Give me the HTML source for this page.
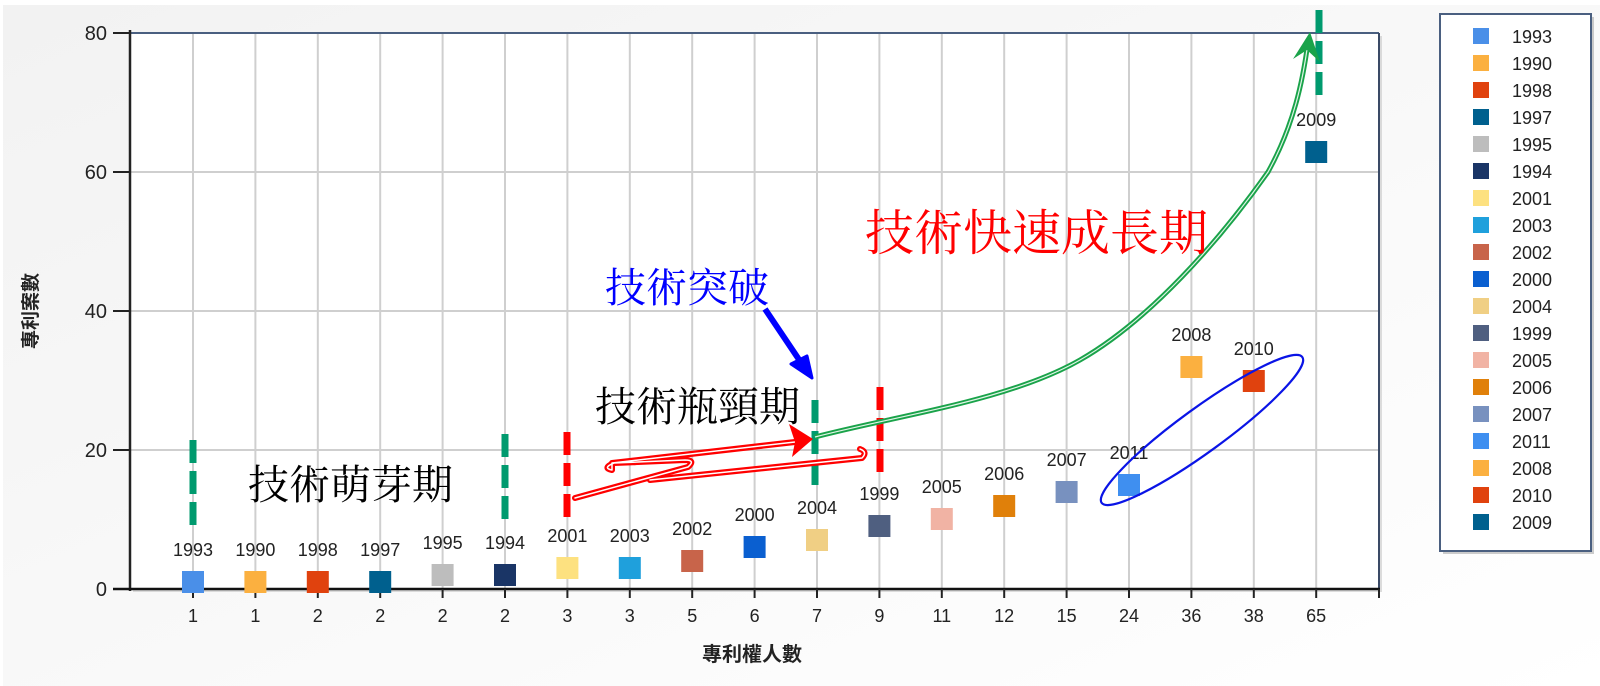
<!DOCTYPE html>
<html><head><meta charset="utf-8"><style>
html,body{margin:0;padding:0;width:1600px;height:686px;overflow:hidden;background:#fff}
svg{display:block}
text{font-family:"Liberation Sans","Noto Sans CJK TC",sans-serif}
.cj{font-family:"Liberation Serif","Noto Serif CJK SC","Noto Sans CJK TC",serif}
</style></head><body>
<svg width="1600" height="686" viewBox="0 0 1600 686" xmlns="http://www.w3.org/2000/svg">
<defs>
<linearGradient id="bg" x1="0" y1="0" x2="1" y2="1">
<stop offset="0" stop-color="#f2f2f2"/><stop offset="1" stop-color="#ffffff"/>
</linearGradient>
</defs>
<rect x="0" y="0" width="1600" height="686" fill="#fff"/>
<rect x="3" y="5" width="1597" height="681" fill="url(#bg)"/>
<rect x="133" y="36" width="1249" height="556" fill="#bbb" opacity="0.5"/>
<rect x="130" y="33" width="1249" height="556" fill="#fff"/>
<g stroke="#cfcfcf" stroke-width="2">
<line x1="130" y1="172" x2="1379" y2="172"/>
<line x1="130" y1="311" x2="1379" y2="311"/>
<line x1="130" y1="450" x2="1379" y2="450"/>
</g>
<g stroke="#cfcfcf" stroke-width="2">
<line x1="193" y1="33" x2="193" y2="589"/><line x1="255.4" y1="33" x2="255.4" y2="589"/>
<line x1="317.8" y1="33" x2="317.8" y2="589"/><line x1="380.2" y1="33" x2="380.2" y2="589"/>
<line x1="442.6" y1="33" x2="442.6" y2="589"/><line x1="505" y1="33" x2="505" y2="589"/>
<line x1="567.4" y1="33" x2="567.4" y2="589"/><line x1="629.8" y1="33" x2="629.8" y2="589"/>
<line x1="692.2" y1="33" x2="692.2" y2="589"/><line x1="754.6" y1="33" x2="754.6" y2="589"/>
<line x1="817" y1="33" x2="817" y2="589"/><line x1="879.4" y1="33" x2="879.4" y2="589"/>
<line x1="941.8" y1="33" x2="941.8" y2="589"/><line x1="1004.2" y1="33" x2="1004.2" y2="589"/>
<line x1="1066.6" y1="33" x2="1066.6" y2="589"/><line x1="1129" y1="33" x2="1129" y2="589"/>
<line x1="1191.4" y1="33" x2="1191.4" y2="589"/><line x1="1253.8" y1="33" x2="1253.8" y2="589"/>
<line x1="1316.2" y1="33" x2="1316.2" y2="589"/>
</g>
<line x1="130" y1="33" x2="1379" y2="33" stroke="#4a5f80" stroke-width="2"/>
<line x1="1379" y1="33" x2="1379" y2="589" stroke="#3a4a66" stroke-width="2"/>
<line x1="130" y1="30" x2="130" y2="591" stroke="#222" stroke-width="2.5"/>
<line x1="113" y1="589" x2="1380" y2="589" stroke="#111" stroke-width="2.5"/>
<g stroke="#222" stroke-width="2">
<line x1="113" y1="33" x2="130" y2="33"/><line x1="113" y1="172" x2="130" y2="172"/>
<line x1="113" y1="311" x2="130" y2="311"/><line x1="113" y1="450" x2="130" y2="450"/>
</g>
<g font-size="20" fill="#222" text-anchor="end">
<text x="107" y="40">80</text><text x="107" y="179">60</text><text x="107" y="318">40</text>
<text x="107" y="457">20</text><text x="107" y="596">0</text>
</g>
<g stroke="#222" stroke-width="2">
<line x1="193" y1="589" x2="193" y2="598"/><line x1="255.4" y1="589" x2="255.4" y2="598"/>
<line x1="317.8" y1="589" x2="317.8" y2="598"/><line x1="380.2" y1="589" x2="380.2" y2="598"/>
<line x1="442.6" y1="589" x2="442.6" y2="598"/><line x1="505" y1="589" x2="505" y2="598"/>
<line x1="567.4" y1="589" x2="567.4" y2="598"/><line x1="629.8" y1="589" x2="629.8" y2="598"/>
<line x1="692.2" y1="589" x2="692.2" y2="598"/><line x1="754.6" y1="589" x2="754.6" y2="598"/>
<line x1="817" y1="589" x2="817" y2="598"/><line x1="879.4" y1="589" x2="879.4" y2="598"/>
<line x1="941.8" y1="589" x2="941.8" y2="598"/><line x1="1004.2" y1="589" x2="1004.2" y2="598"/>
<line x1="1066.6" y1="589" x2="1066.6" y2="598"/><line x1="1129" y1="589" x2="1129" y2="598"/>
<line x1="1191.4" y1="589" x2="1191.4" y2="598"/><line x1="1253.8" y1="589" x2="1253.8" y2="598"/>
<line x1="1316.2" y1="589" x2="1316.2" y2="598"/><line x1="1379" y1="589" x2="1379" y2="598"/>
</g>
<g font-size="18" fill="#222" text-anchor="middle">
<text x="193" y="622">1</text><text x="255.4" y="622">1</text><text x="317.8" y="622">2</text>
<text x="380.2" y="622">2</text><text x="442.6" y="622">2</text><text x="505" y="622">2</text>
<text x="567.4" y="622">3</text><text x="629.8" y="622">3</text><text x="692.2" y="622">5</text>
<text x="754.6" y="622">6</text><text x="817" y="622">7</text><text x="879.4" y="622">9</text>
<text x="941.8" y="622">11</text><text x="1004.2" y="622">12</text><text x="1066.6" y="622">15</text>
<text x="1129" y="622">24</text><text x="1191.4" y="622">36</text><text x="1253.8" y="622">38</text>
<text x="1316.2" y="622">65</text>
</g>
<text x="752" y="661" font-size="20" font-weight="bold" fill="#222" text-anchor="middle">專利權人數</text>
<text transform="translate(37,311) rotate(-90)" font-size="19" font-weight="bold" fill="#222" text-anchor="middle">專利案數</text>
<g>
<rect x="182" y="571" width="22" height="22" fill="#4a8fe8"/>
<rect x="244.4" y="571" width="22" height="22" fill="#fbb040"/>
<rect x="306.8" y="571" width="22" height="22" fill="#e0420e"/>
<rect x="369.2" y="571" width="22" height="22" fill="#00608e"/>
<rect x="431.6" y="564" width="22" height="22" fill="#bdbdbd"/>
<rect x="494" y="564" width="22" height="22" fill="#1a3566"/>
<rect x="556.4" y="557" width="22" height="22" fill="#fde180"/>
<rect x="618.8" y="557" width="22" height="22" fill="#1fa0dc"/>
<rect x="681.2" y="550" width="22" height="22" fill="#c8644a"/>
<rect x="743.6" y="536" width="22" height="22" fill="#0a5fd0"/>
<rect x="806" y="529" width="22" height="22" fill="#f0cf84"/>
<rect x="868.4" y="515" width="22" height="22" fill="#4f5f80"/>
<rect x="930.8" y="508" width="22" height="22" fill="#f1b3a4"/>
<rect x="993.2" y="495" width="22" height="22" fill="#e0800a"/>
<rect x="1055.6" y="481" width="22" height="22" fill="#7891bf"/>
<rect x="1118" y="474" width="22" height="22" fill="#3f8ff0"/>
<rect x="1180.4" y="356" width="22" height="22" fill="#fbb040"/>
<rect x="1242.8" y="370" width="22" height="22" fill="#e0420e"/>
<rect x="1305.2" y="141" width="22" height="22" fill="#00608e"/>
</g>
<g font-size="18" fill="#222" text-anchor="middle">
<text x="193" y="556">1993</text><text x="255.4" y="556">1990</text><text x="317.8" y="556">1998</text>
<text x="380.2" y="556">1997</text><text x="442.6" y="549">1995</text><text x="505" y="549">1994</text>
<text x="567.4" y="542">2001</text><text x="629.8" y="542">2003</text><text x="692.2" y="535">2002</text>
<text x="754.6" y="521">2000</text><text x="817" y="514">2004</text><text x="879.4" y="500">1999</text>
<text x="941.8" y="493">2005</text><text x="1004.2" y="480">2006</text><text x="1066.6" y="466">2007</text>
<text x="1129" y="459">2011</text><text x="1191.4" y="341">2008</text><text x="1253.8" y="355">2010</text>
<text x="1316.2" y="126">2009</text>
</g>
<g stroke-width="7" stroke-dasharray="23,8" fill="none">
<line x1="193" y1="440" x2="193" y2="525" stroke="#009a6e"/>
<line x1="505" y1="434" x2="505" y2="519" stroke="#009a6e"/>
<line x1="567" y1="432" x2="567" y2="517" stroke="#ff0000"/>
<line x1="815" y1="400" x2="815" y2="485" stroke="#009a6e"/>
<line x1="880" y1="387" x2="880" y2="472" stroke="#ff0000"/>
<line x1="1319" y1="10" x2="1319" y2="95" stroke="#009a6e"/>
</g>
<g fill="none" stroke-linecap="round" stroke-linejoin="round">
<path d="M575,498 L688,467 Q696,460 685,460 L614,463 Q602,468 612,470 L612,463 L795,442" stroke="#f00" stroke-width="6"/>
<path d="M650,480 L862,458 Q868,452 860,449" stroke="#f00" stroke-width="6"/>
<path d="M575,498 L688,467 Q696,460 685,460 L614,463 Q602,468 612,470 L612,463 L795,442" stroke="#fff" stroke-width="1.5"/>
<path d="M650,480 L862,458 Q868,452 860,449" stroke="#fff" stroke-width="1.5"/>
</g>
<path d="M813,439 L789,424 L795,442 L792,457 Z" fill="#f00"/>
<path id="gc" d="M815,437 C900,415 1010,400 1080,360 C1150,320 1220,240 1268,172 C1294,125 1303,80 1308,42" fill="none" stroke="#1aa34a" stroke-width="5"/>
<path d="M815,437 C900,415 1010,400 1080,360 C1150,320 1220,240 1268,172 C1294,125 1303,80 1308,42" fill="none" stroke="#dff5e6" stroke-width="1.2"/>
<path d="M1310,32 L1293,59 L1307,50 L1320,62 Z" fill="#1aa34a"/>
<line x1="765" y1="309" x2="806" y2="370" stroke="#0000ff" stroke-width="6"/>
<path d="M812,378 L791,364 L807,356 Z" fill="#0000ff" stroke="#0000ff" stroke-width="3" stroke-linejoin="round"/>
<ellipse cx="1202" cy="430" rx="124" ry="22" transform="rotate(-36 1202 430)" fill="none" stroke="#0a14e6" stroke-width="2.2"/>
<text class="cj" x="248" y="499" font-size="41" fill="#000">技術萌芽期</text>
<text class="cj" x="595" y="421" font-size="41" fill="#000">技術瓶頸期</text>
<text class="cj" x="605" y="302" font-size="41" fill="#0000ff">技術突破</text>
<text class="cj" x="865" y="250" font-size="49" fill="#ff0000">技術快速成長期</text>
<rect x="1443" y="17" width="151" height="537" fill="#999" opacity="0.5"/>
<rect x="1440" y="14" width="151" height="537" fill="#fff" stroke="#4a5f80" stroke-width="2"/>
<g>
<rect x="1473" y="28" width="16" height="16" fill="#4a8fe8"/>
<rect x="1473" y="55" width="16" height="16" fill="#fbb040"/>
<rect x="1473" y="82" width="16" height="16" fill="#e0420e"/>
<rect x="1473" y="109" width="16" height="16" fill="#00608e"/>
<rect x="1473" y="136" width="16" height="16" fill="#bdbdbd"/>
<rect x="1473" y="163" width="16" height="16" fill="#1a3566"/>
<rect x="1473" y="190" width="16" height="16" fill="#fde180"/>
<rect x="1473" y="217" width="16" height="16" fill="#1fa0dc"/>
<rect x="1473" y="244" width="16" height="16" fill="#c8644a"/>
<rect x="1473" y="271" width="16" height="16" fill="#0a5fd0"/>
<rect x="1473" y="298" width="16" height="16" fill="#f0cf84"/>
<rect x="1473" y="325" width="16" height="16" fill="#4f5f80"/>
<rect x="1473" y="352" width="16" height="16" fill="#f1b3a4"/>
<rect x="1473" y="379" width="16" height="16" fill="#e0800a"/>
<rect x="1473" y="406" width="16" height="16" fill="#7891bf"/>
<rect x="1473" y="433" width="16" height="16" fill="#3f8ff0"/>
<rect x="1473" y="460" width="16" height="16" fill="#fbb040"/>
<rect x="1473" y="487" width="16" height="16" fill="#e0420e"/>
<rect x="1473" y="514" width="16" height="16" fill="#00608e"/>
</g>
<g font-size="18" fill="#222">
<text x="1512" y="43">1993</text><text x="1512" y="70">1990</text><text x="1512" y="97">1998</text>
<text x="1512" y="124">1997</text><text x="1512" y="151">1995</text><text x="1512" y="178">1994</text>
<text x="1512" y="205">2001</text><text x="1512" y="232">2003</text><text x="1512" y="259">2002</text>
<text x="1512" y="286">2000</text><text x="1512" y="313">2004</text><text x="1512" y="340">1999</text>
<text x="1512" y="367">2005</text><text x="1512" y="394">2006</text><text x="1512" y="421">2007</text>
<text x="1512" y="448">2011</text><text x="1512" y="475">2008</text><text x="1512" y="502">2010</text>
<text x="1512" y="529">2009</text>
</g>
</svg>
</body></html>
